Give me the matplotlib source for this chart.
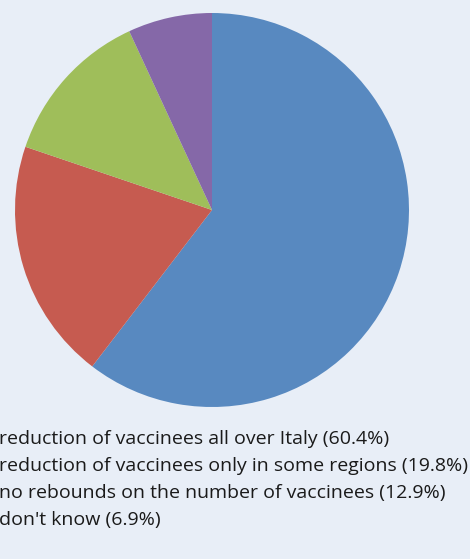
import matplotlib.pyplot as plt

labels = ['reduction of vaccinees all over Italy',
          'reduction of vaccinees only in some regions',
          'no rebounds on the number of vaccinees',
          "don't know"]
values = [60.4, 19.8, 12.9, 6.9]
colors = ['#5889c0', '#c65b50', '#9fbe5a', '#8568a8']

bg = '#e8eef7'
fig = plt.figure(figsize=(4.70, 5.59), dpi=100, facecolor=bg)
ax = fig.add_axes([15/470, 152/559, 394/470, 394/559])
ax.set_facecolor(bg)
ax.pie(values, colors=colors, startangle=90, counterclock=False, radius=1,
       wedgeprops=dict(linewidth=0))
ax.set_xlim(-1, 1)
ax.set_ylim(-1, 1)
ax.set_aspect('equal')
ax.axis('off')

# legend text (markers cropped off on the left)
y0 = 439
for i, (lab, v) in enumerate(zip(labels, values)):
    y = y0 + i * 27
    fig.text(-0.002, 1 - y/559, '%s (%.1f%%)' % (lab, v), fontsize=14,
             family='Open Sans', color='#1a1a1a', va='center', ha='left')

fig.savefig('out.png', dpi=100, facecolor=bg)
